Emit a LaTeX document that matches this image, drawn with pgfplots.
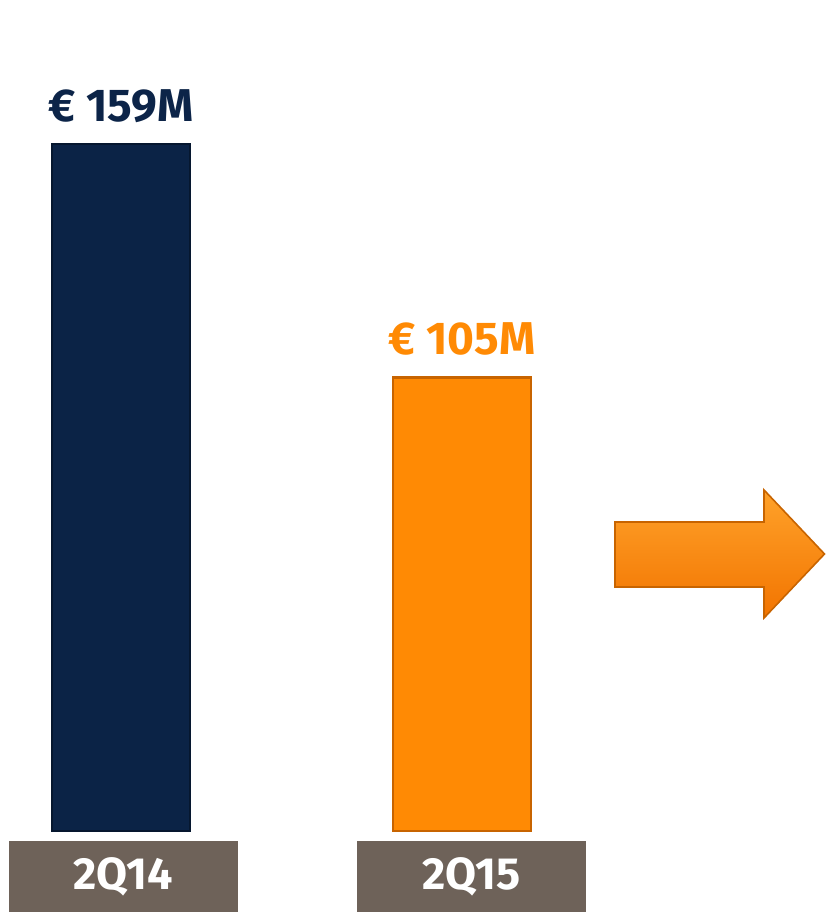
\documentclass[border=0pt]{standalone}
\usepackage{pgfplots}
\pgfplotsset{compat=1.18}
\usepackage{fontspec}
\setmainfont{Fira Sans}
\definecolor{navy}{HTML}{0B2346}
\definecolor{navyedge}{HTML}{06172F}
\definecolor{navylab}{HTML}{0C2448}
\definecolor{orng}{HTML}{FF8A04}
\definecolor{orngedge}{HTML}{C86400}
\definecolor{arrtop}{HTML}{FFA22A}
\definecolor{arrbot}{HTML}{F27400}
\definecolor{boxc}{HTML}{6E6259}
\begin{document}
\begin{tikzpicture}
\begin{axis}[
  width=412.5pt, height=456.5pt, scale only axis,
  xmin=0, xmax=825, ymin=-18.98, ymax=192.36,
  axis lines=none, clip=false,
  point meta=y,
  /pgf/number format/assume math mode=true,
  every node near coord/.append style={anchor=base, yshift=11.5pt,
     font=\fontsize{23}{25}\selectfont\bfseries},
]
\addplot[ybar, bar width=69pt, bar shift=0pt, fill=navy, draw=navyedge, line width=1.2pt,
  nodes near coords={€~\pgfmathprintnumber{\pgfplotspointmeta}M},
  nodes near coords style={text=navylab}]
  coordinates {(121,159)};
\addplot[ybar, bar width=69pt, bar shift=0pt, fill=orng, draw=orngedge, line width=1.2pt,
  nodes near coords={€~\pgfmathprintnumber{\pgfplotspointmeta}M},
  nodes near coords style={text=orng}]
  coordinates {(462,105)};
% category boxes
\node[fill=boxc, minimum width=114.5pt, minimum height=35.5pt, inner sep=0pt,
  text=white, font=\fontsize{22.5}{24}\selectfont\bfseries] at (axis cs:123.5,-10.53) {2Q14};
\node[fill=boxc, minimum width=114.5pt, minimum height=35.5pt, inner sep=0pt,
  text=white, font=\fontsize{22.5}{24}\selectfont\bfseries] at (axis cs:471.5,-10.53) {2Q15};
% arrow
\fill[top color=arrtop, bottom color=arrbot, draw=orngedge, line width=0.8pt]
  (axis cs:615,71.53) -- (axis cs:764,71.53) -- (axis cs:764,78.94) -- (axis cs:824.5,64.12)
  -- (axis cs:764,49.31) -- (axis cs:764,56.48) -- (axis cs:615,56.48) -- cycle;
\end{axis}
\pgfresetboundingbox
\path (current axis.south west) rectangle (current axis.north east);
\end{tikzpicture}
\end{document}
